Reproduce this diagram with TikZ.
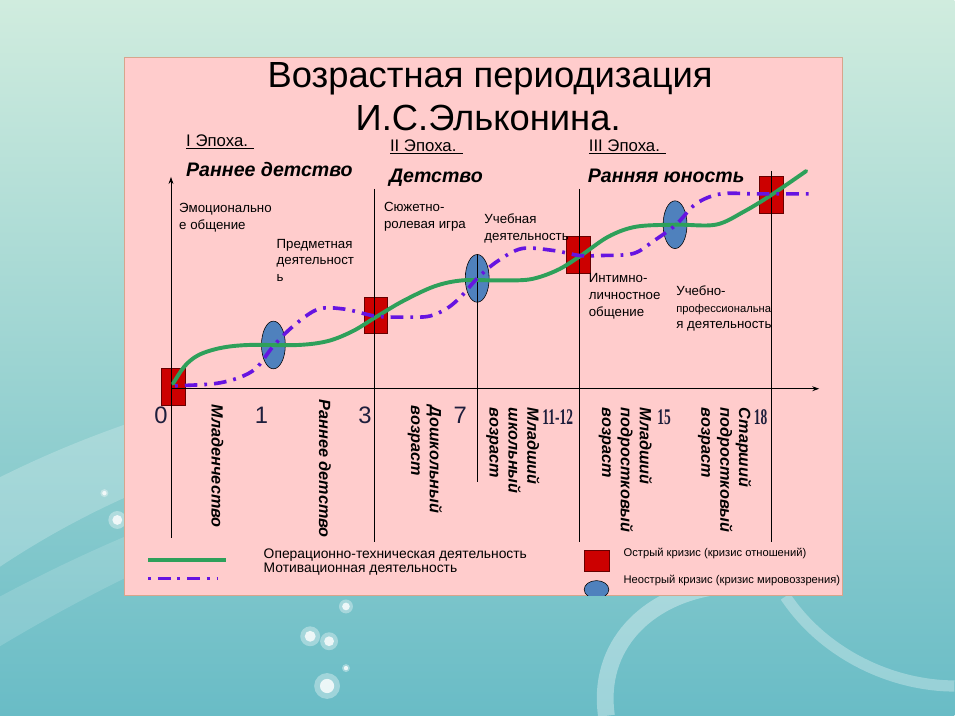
\documentclass[tikz,border=0pt]{standalone}
\usepackage{fontspec}
\setmainfont{Liberation Sans}
\newfontfamily\narrowserif[FakeStretch=0.6]{Liberation Serif}
\usepackage{tikz}
\usetikzlibrary{arrows.meta, positioning, shapes.geometric}

\definecolor{bgtop}{RGB}{208,236,222}
\definecolor{bgbot}{RGB}{105,188,198}
\definecolor{panelpink}{RGB}{255,204,204}
\definecolor{panelline}{RGB}{215,165,140}
\definecolor{acutered}{RGB}{204,0,0}
\definecolor{mildblue}{RGB}{79,129,189}
\definecolor{opgreen}{RGB}{46,160,90}
\definecolor{motviolet}{RGB}{102,20,225}
\definecolor{numcol}{RGB}{30,30,60}

\begin{document}
\begin{tikzpicture} [x=0.025cm, y=-0.025cm,
			acute/.style={rectangle, draw=black!60!red, fill=acutered,
				inner sep=0pt, minimum width=0.6cm, minimum height=0.92cm},
			mild/.style={ellipse, draw=black, fill=mildblue,
				inner sep=0pt, minimum width=0.6cm, minimum height=1.2cm},
			epoch/.style={anchor=base west, inner sep=0pt,
				font=\fontsize{12}{14}\selectfont},
			period/.style={anchor=base west, inner sep=0pt,
				font=\bfseries\itshape\fontsize{14}{16}\selectfont},
			activity/.style={anchor=north west, inner sep=0pt, align=left,
				font=\fontsize{9.5}{12}\selectfont},
			age/.style={rotate=-90, anchor=north west, inner sep=0pt, align=left,
				font=\bfseries\itshape\fontsize{11.6}{13.5}\selectfont},
			year/.style={text=numcol, inner sep=0pt, font=\fontsize{17}{20}\selectfont},
			yearn/.style={text=numcol, inner sep=0pt,
				font=\narrowserif\bfseries\fontsize{16}{20}\selectfont},
			opline/.style={draw=opgreen, line width=2.8pt, line cap=round},
			motline/.style={draw=motviolet, line width=2.6pt,
				dash pattern=on 2pt off 5pt on 9pt off 5pt},
			divider/.style={draw=black, line width=0.6pt},
			legend/.style={anchor=base west, inner sep=0pt,
				font=\fontsize{8}{10}\selectfont},
		]

		% Background
		\shade[top color=bgtop, bottom color=bgbot] (0,0) rectangle (960,720);
		\fill[white, opacity=0.22] (0,480) .. controls (120,420) and (260,380) .. (420,360)
			-- (420,420) .. controls (260,440) and (120,490) .. (0,570) -- cycle;
		\fill[white, opacity=0.15] (0,600) .. controls (150,520) and (300,470) .. (420,450)
			-- (420,480) .. controls (300,500) and (150,560) .. (0,650) -- cycle;
		\draw[white, opacity=0.35, line width=12pt] (610,720) .. controls (600,650) and (650,600) .. (720,590);
		\draw[white, opacity=0.3, line width=8pt] (790,600) .. controls (830,660) and (900,690) .. (960,690);
		\foreach \bx/\by/\br in {348/610/7, 312/640/10, 331/645/9, 329/690/13,
			348/672/4, 105/496/4, 118/523/9} {
			\fill[white, opacity=0.35] (\bx,\by) circle (\br);
			\fill[white, opacity=0.8] (\bx,\by) circle (0.55*\br);
		}

		% Panel
		\draw[draw=panelline, fill=panelpink] (125,58) rectangle (847,599);

		% Title
		\node (title1) [anchor=base, inner sep=0pt, font=\fontsize{26}{30}\selectfont]
			at (493,88) {Возрастная периодизация};
		\node (title2) [anchor=base, inner sep=0pt, font=\fontsize{26}{30}\selectfont]
			at (491,131) {И.С.Эльконина.};

		% Epochs
		\node (ep1) [epoch] at (187,147) {\underline{I Эпоха. }};
		\node (ep2) [epoch] at (392,152) {\underline{II Эпоха. }};
		\node (ep3) [epoch] at (592,152) {\underline{III Эпоха. }};
		\node (per1) [period] at (187,178) {Раннее детство};
		\node (per2) [period] at (391,184) {Детство};
		\node (per3) [period] at (591,184) {Ранняя юность};

		% Crises
		\node (a0) [acute] at (174,389) {};
		\node (a3) [acute] at (378,317) {};
		\node (a11) [acute] at (582,256) {};
		\node (a18) [acute] at (776,196) {};

		% Axes and dividers
		\draw[divider, -{Stealth[length=5pt, width=3.5pt]}] (172,541) -- (172,178);
		\draw[divider, -{Stealth[length=5pt, width=3.5pt]}] (172,391) -- (824,391);
		\draw[divider] (377,190) -- (377,545);
		\draw[divider] (583,190) -- (583,545);
		\draw[divider] (776,172) -- (776,545);

		\node (m1) [mild] at (275,347) {};
		\node (m7) [mild] at (480,280) {};
		\node (m15) [mild] at (679,226) {};
		\draw[divider] (m7.north) -- (480,485);

		% Activity lines
		\draw[opline] plot[smooth, tension=0.55] coordinates {(174,386) (186,368) (200,357)
			(222,350) (250,347) (300,347) (330,343) (355,333) (378,319) (405,303) (437,288)
			(465,282) (500,282) (533,281) (560,272) (583,258) (612,238) (640,228) (680,226)
			(720,226) (748,213) (776,196) (811,172)};
		\draw[motline] plot[smooth, tension=0.55] coordinates {(176,388) (215,386) (240,380)
			(258,370) (275,348) (295,328) (320,311) (347,311) (378,318) (410,319) (432,318)
			(450,310) (465,297) (480,280) (500,263) (525,250) (557,252) (583,257) (605,257)
			(637,255) (658,242) (680,226) (700,205) (725,195) (760,195) (818,195)};

		% Leading activities
		\node (emo) [activity] at (180,204) {Эмоционально\\е общение};
		\node (obj) [activity] at (278,240) {Предметная\\деятельност\\ь};
		\node (role) [activity] at (386,203) {Сюжетно-\\ролевая игра};
		\node (study) [activity] at (487,215) {Учебная\\деятельность};
		\node (intim) [activity] at (592,275) {Интимно-\\личностное\\общение};
		\node (prof) [activity] at (680,287)
			{Учебно-\\{\fontsize{8}{12}\selectfont профессиональна}\\я деятельность};

		% Ages
		\node (y0) [year] at (162,418) {0};
		\node (y1) [year] at (263,418) {1};
		\node (y3) [year] at (367,418) {3};
		\node (y7) [year] at (463,418) {7};
		\node (y11) [yearn] at (561,420) {11-12};
		\node (y15) [yearn] at (668,420) {15};
		\node (y18) [yearn] at (765,420) {18};

		% Periods
		\node (inf) [age] at (225,407) {Младенчество};
		\node (early) [age] at (333,402) {Раннее детство};
		\node (presch) [age] at (445,408) {Дошкольный\\возраст};
		\node (school) [age] at (543,410) {Младший\\школьный\\возраст};
		\node (teen1) [age] at (656,410) {Младший\\подростковый\\возраст};
		\node (teen2) [age] at (756,410) {Старший\\подростковый\\возраст};

		% Legend
		\draw[opline, line cap=butt] (149,563) -- (227,563);
		\draw[motline] (149,582) -- (218,582);
		\node (lgop) [anchor=north west, inner sep=0pt, align=left,
			font=\fontsize{9.9}{10}\selectfont] at (265,552)
			{Операционно-техническая деятельность\\Мотивационная деятельность};
		\node (lga) [acute, minimum width=0.62cm, minimum height=0.55cm] at (600,564) {};
		\begin{scope}
			\clip (125,58) rectangle (847,599);
			\node (lgm) [mild, minimum width=0.62cm, minimum height=0.45cm] at (600,593) {};
		\end{scope}
		\node (lgat) [legend] at (627,560) {Острый кризис (кризис отношений)};
		\node (lgmt) [legend] at (627,587) {Неострый кризис (кризис мировоззрения)};
	\end{tikzpicture}
\end{document}
